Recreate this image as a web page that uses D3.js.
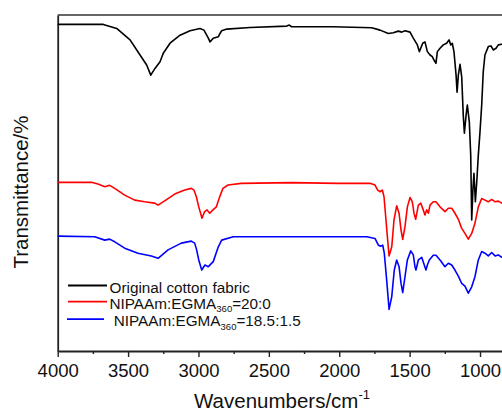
<!DOCTYPE html>
<html>
<head>
<meta charset="utf-8">
<script src="https://cdn.jsdelivr.net/npm/d3@7"></script>
<style>
  html, body { margin: 0; padding: 0; background: #fff; overflow: hidden; }
  svg { display: block; }
  text { font-family: "Liberation Sans", Arial, sans-serif; fill: #111; }
</style>
</head>
<body>
<svg id="chart" width="502" height="412"></svg>
<script>
// ---- data (wavenumber cm^-1, transmittance a.u.) ----
const cottonWn = [4000,3676,3581,3486,3415,3368,3339,3309,3273,3250,3202,3131,3060,2989,2961,2930,2918,2895,2859,2847,2835,2799,2634,2373,2355,2338,2044,1769,1710,1651,1616,1580,1556,1533,1497,1474,1445,1431,1407,1391,1374,1355,1339,1327,1313,1303,1284,1261,1237,1220,1208,1197,1185,1170,1163,1154,1142,1130,1119,1111,1099,1090,1076,1066,1059,1050,1043,1033,1023,1012,1000,988,977,965,941,922,906,886,870,846,800];
const cottonT  = [97.2,97.2,96.0,92.6,88.1,85.1,82.1,84.1,86.1,88.6,91.6,94.0,95.3,96.0,95.5,93.1,92.0,93.1,93.5,94.5,95.3,95.8,96.3,96.7,97.0,96.5,96.5,96.2,95.5,94.5,94.7,95.2,94.9,95.3,94.9,93.1,91.1,89.1,91.6,92.0,89.1,88.1,87.6,86.6,85.6,89.1,90.1,91.1,91.6,92.6,91.1,91.6,89.1,82.1,77.0,82.1,85.3,81.6,70.2,64.8,70.2,73.2,68.2,58.3,39.0,48.4,52.9,44.4,50.4,58.3,65.3,73.2,83.1,88.1,90.6,90.8,89.6,90.1,91.1,91.3,91.4];

const pnipaWn = [4000,3761,3714,3666,3631,3595,3524,3453,3382,3311,3287,3240,3169,3098,3051,3032,3015,2998,2975,2956,2939,2920,2897,2873,2849,2826,2790,2696,2341,2009,1781,1746,1727,1710,1694,1682,1668,1658,1646,1627,1611,1592,1575,1561,1549,1533,1516,1497,1481,1469,1457,1438,1421,1403,1391,1379,1367,1355,1332,1313,1284,1249,1225,1201,1178,1154,1130,1107,1083,1059,1036,1012,988,965,941,917,893,870,846,800];
const pnipaT  = [50.2,50.2,49.7,48.9,49.3,48.4,46.4,44.9,44.4,44.0,43.4,44.7,46.7,47.9,48.4,47.9,45.9,42.9,39.5,41.5,42.0,41.0,42.0,42.9,45.9,48.4,49.4,49.9,50.1,49.9,49.9,49.4,47.9,47.4,47.9,45.9,39.0,34.0,28.3,31.0,39.0,43.2,41.0,36.0,33.2,37.0,42.9,45.7,44.4,41.0,39.2,43.4,44.0,42.0,40.5,42.0,41.0,43.4,44.4,44.4,42.9,41.5,42.5,42.5,41.0,39.2,36.5,35.0,33.3,35.0,38.0,42.9,45.4,44.9,44.4,45.1,44.4,44.6,44.0,44.0];

const copolyWn = [4000,3737,3666,3631,3595,3524,3430,3335,3287,3216,3122,3051,3027,3013,2998,2977,2954,2930,2895,2859,2835,2753,1805,1746,1722,1705,1691,1680,1663,1646,1627,1609,1592,1575,1561,1549,1533,1516,1492,1474,1462,1455,1438,1414,1396,1384,1374,1360,1332,1313,1284,1249,1225,1201,1178,1154,1130,1107,1083,1059,1036,1012,988,965,941,917,893,870,846,800];
const copolyT  = [34.2,34.0,33.0,33.3,32.5,30.6,29.1,28.3,27.6,30.1,32.1,32.7,32.1,30.1,27.1,24.1,25.6,25.1,26.6,31.0,33.0,34.0,34.0,33.5,31.5,31.2,31.5,29.1,21.1,12.4,16.2,24.1,27.1,25.1,20.1,17.4,22.1,27.1,29.8,28.6,25.1,24.1,27.1,27.9,25.6,24.1,25.6,27.1,28.5,28.5,27.1,25.1,26.1,25.6,24.1,22.3,20.1,19.3,17.2,19.1,22.1,27.1,29.6,29.1,28.3,29.3,28.3,28.6,27.9,27.9];

const seriesNames  = ["Original cotton fabric", "NIPAAm:EGMA", " NIPAAm:EGMA"];
const seriesSubs   = ["", "360", "360"];
const seriesSuffix = ["", "=20:0", "=18.5:1.5"];
const seriesColors = ["#000000", "#ff0000", "#0000ff"];

const xTicks = [4000,3500,3000,2500,2000,1500,1000];
const xMinorTicks = [3750,3250,2750,2250,1750,1250,750];
const xTitle = "Wavenumbers/cm";
const xTitleSup = "-1";
const yTitle = "Transmittance/%";

// ---- layout ----
const svg = d3.select("#chart");
const mLeft = 57.7, mTop = 15, mBottom = 351;
const x = d3.scaleLinear().domain([4000, 400]).range([mLeft, mLeft + 3600 * 0.14077]);
const y = d3.scaleLinear().domain([0, 100]).range([mBottom, mTop]);

const series = [
  {wn: cottonWn, t: cottonT},
  {wn: pnipaWn, t: pnipaT},
  {wn: copolyWn, t: copolyT}
];

// frame top line
svg.append("line")
  .attr("x1", x(4000)).attr("x2", x(400))
  .attr("y1", y(100)).attr("y2", y(100))
  .attr("stroke", "#333").attr("stroke-width", 1.6);

// left axis (no ticks)
const yAxis = d3.axisLeft(y).tickValues([]).tickSizeOuter(0);
svg.append("g").attr("transform", `translate(${mLeft},0)`).call(yAxis)
  .call(g => g.select(".domain").attr("stroke", "#222").attr("stroke-width", 1.8));

// bottom axis
const xAxis = d3.axisBottom(x).tickValues(xTicks).tickSize(6).tickSizeOuter(0).tickFormat(d3.format("d"));
const gx = svg.append("g").attr("transform", `translate(0,${mBottom})`).call(xAxis);
gx.select(".domain").attr("stroke", "#222").attr("stroke-width", 1.8);
gx.selectAll(".tick line").attr("stroke", "#222").attr("stroke-width", 1.4);
gx.selectAll(".tick text").attr("font-size", 18.5).attr("dy", 0).attr("y", 25.5)
  .attr("font-family", '"Liberation Sans", Arial, sans-serif').attr("fill", "#111");
const xMinor = d3.axisBottom(x).tickValues(xMinorTicks).tickSize(3).tickFormat("");
const gm = svg.append("g").attr("transform", `translate(0,${mBottom})`).call(xMinor);
gm.select(".domain").remove();
gm.selectAll(".tick line").attr("stroke", "#222").attr("stroke-width", 1.4);

// spectra
const line = d3.line().x(d => x(d[0])).y(d => y(d[1]));
series.forEach((s, i) => {
  const pts = s.wn.map((w, k) => [w, s.t[k]]);
  svg.append("path").datum(pts)
    .attr("d", line).attr("fill", "none")
    .attr("stroke", seriesColors[i]).attr("stroke-width", 1.6)
    .attr("stroke-linejoin", "round");
});

// legend
const legY = [285.5, 301.7, 319.2];
const legX1 = [68, 68, 67], legX2 = [107, 107, 104];
seriesNames.forEach((n, i) => {
  svg.append("line").attr("x1", legX1[i]).attr("x2", legX2[i])
    .attr("y1", legY[i]).attr("y2", legY[i])
    .attr("stroke", seriesColors[i]).attr("stroke-width", 1.8);
  const t = svg.append("text").attr("x", 109.5).attr("y", legY[i] + 7)
    .attr("font-size", 15.3).style("white-space", "pre");
  t.append("tspan").text(n);
  if (seriesSubs[i]) {
    t.append("tspan").attr("font-size", 9.5).attr("dy", 3.5).text(seriesSubs[i]);
    t.append("tspan").attr("dy", -3.5).text(seriesSuffix[i]);
  }
});

// axis titles
const xt = svg.append("text").attr("x", 282).attr("y", 407.5)
  .attr("text-anchor", "middle").attr("font-size", 20.5);
xt.append("tspan").text(xTitle);
xt.append("tspan").attr("font-size", 13).attr("dy", -9).text(xTitleSup);

svg.append("text").attr("transform", "translate(27.5,192) rotate(-90)")
  .attr("text-anchor", "middle").attr("font-size", 20.5).text(yTitle);
</script>
</body>
</html>
